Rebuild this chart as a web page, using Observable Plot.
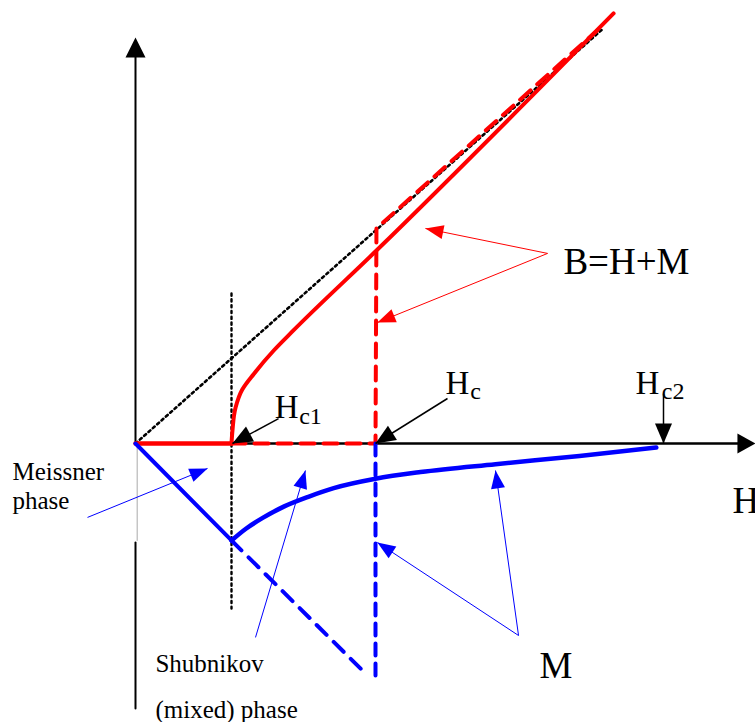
<!DOCTYPE html>
<html>
<head>
<meta charset="utf-8">
<script src="https://cdn.jsdelivr.net/npm/d3@7"></script>
<script src="https://cdn.jsdelivr.net/npm/@observablehq/plot@0.6"></script>
<style>
  html, body { margin: 0; padding: 0; background: #fff; }
  #chart svg { display: block; }
</style>
</head>
<body>
<div id="chart"></div>
<script>
// ---- Field values (arbitrary units) ----
const Hc1 = 4, Hc = 10, Hc2 = 22;

// Axes
const hAxisEnd = 25.83;       // tip of H axis arrow
const vAxisEnd = 16.92;       // tip of vertical axis arrow
const vAxisLowGrayH = [0.07, 0.07];
const vAxisLowGrayY = [0, -4.04];
const vAxisLowBlackY = [-4.125, -11.04];

// B = H reference (dotted)
const refH = [0, 19.5];
const refB = [0, 17.3];

// B(H) of the type-II superconductor (solid red)
const bMeissnerH = [0, Hc1];
const bMeissnerB = [0, 0];
const bMixedH = [4, 4.04, 4.17, 4.45, 4.93, 5.76, 6.58, 10.04, 19.92];
const bMixedB = [0, 0.54, 1.5, 2.25, 2.9, 3.875, 4.71, 8.04, 17.92];

// B(H) of the type-I superconductor (dashed red)
const bTypeIH = [Hc1, Hc, Hc, 10.04, 19.24];
const bTypeIB = [0, 0, 0, 8.96, 17.21];

// M(H) of the type-II superconductor (solid blue)
const mMeissnerH = [0, Hc1];
const mMeissnerM = [0, -4.04];
const mMixedH = [4, 4.6, 5.3, 6.2, 7.2, 8.26, 10, 11.875, 15, 18.5, 21.7];
const mMixedM = [-4.04, -3.55, -3.1, -2.62, -2.22, -1.86, -1.47, -1.19, -0.86, -0.52, -0.17];

// M(H) of the type-I superconductor (dashed blue)
const mTypeIH = [Hc1, 9.58];
const mTypeIM = [-4.04, -9.58];
const mJumpH = [Hc, Hc];
const mJumpM = [0, -10];

// Hc1 guide (dotted vertical)
const guideH = [Hc1, Hc1];
const guideY = [6.25, -6.875];

// Annotation arrows: from (x1,y1) to tip (x2,y2)
const arrowX1 = [5.96, 13, 22, 17.17, 17.17, -2, 5, 15.96, 15.96];
const arrowY1 = [1.04, 1.875, 2.08, 7.92, 7.92, -3.08, -8.08, -8, -8];
const arrowX2 = [4.04, 10, 22, 12.08, 10.08, 3, 7.08, 10.08, 15];
const arrowY2 = [0, 0, 0, 8.96, 5.04, -1.04, -1.125, -4.125, -1.125];
const arrowColor = ["black", "black", "black", "red", "red", "blue", "blue", "blue", "blue"];
const arrowWidth = [1.5, 1.5, 1.5, 1, 1, 1, 1, 1, 1];

// Labels
const labelText = ["B=H+M", "M", "H", "Meissner", "phase", "Shubnikov", "(mixed) phase"];
const labelX = [17.83, 16.83, 24.875, -5.125, -5.125, 0.83, 0.83];
const labelY = [7.08, -9.79, -2.875, -1.5, -2.71, -9.54, -11.42];
const labelSize = [37, 37, 37, 25, 25, 25, 25];

const critText = ["H", "H", "H"];
const critX = [5.8, 12.92, 20.83];
const critY = [1.08, 2.08, 2.08];
const critSub = ["c1", "c", "c2"];
const critSubX = [6.82, 13.95, 21.93];
const critSubY = [0.83, 1.875, 1.875];

// ---- build tables ----
const zip = (xs, ys) => xs.map((x, i) => ({x, y: ys[i]}));
const pxPerUnit = 24;

// arrowhead triangles (length/width given in pixels, converted to units)
function head(x1, y1, x2, y2, lenPx, widPx, id, color) {
  const dx = x2 - x1, dy = y2 - y1, L = Math.hypot(dx, dy);
  const ux = dx / L, uy = dy / L, nx = -uy, ny = ux;
  const l = lenPx / pxPerUnit, w = widPx / 2 / pxPerUnit;
  const bx = x2 - ux * l, by = y2 - uy * l;
  return [
    {x: x2, y: y2, id, color},
    {x: bx + nx * w, y: by + ny * w, id, color},
    {x: bx - nx * w, y: by - ny * w, id, color},
    {x: x2, y: y2, id, color}
  ];
}

const arrows = arrowX1.map((x1, i) => ({
  x1, y1: arrowY1[i], x2: arrowX2[i], y2: arrowY2[i], color: arrowColor[i], w: arrowWidth[i]
}));
const heads = [];
arrows.forEach((a, i) => {
  const big = i < 3;
  heads.push(...head(a.x1, a.y1, a.x2, a.y2, big ? 20 : 18, big ? 17 : 14, "a" + i, a.color));
});
heads.push(...head(0, 0, hAxisEnd, 0, 18, 20, "axH", "black"));
heads.push(...head(0, 0, 0, vAxisEnd, 20, 20, "axV", "black"));

const labels = labelText.map((t, i) => ({t, x: labelX[i], y: labelY[i], s: labelSize[i]}));
const crit = critText.map((t, i) => ({t, x: critX[i], y: critY[i], sub: critSub[i], sx: critSubX[i], sy: critSubY[i]}));

const W = 755, Hh = 722;
const xDomain = [-135 / pxPerUnit, (W - 135) / pxPerUnit];
const yDomain = [-(Hh - 443) / pxPerUnit, 443 / pxPerUnit];

const font = "Liberation Serif, Times New Roman, serif";

const chart = Plot.plot({
  width: W,
  height: Hh,
  margin: 0,
  x: {domain: xDomain, axis: null},
  y: {domain: yDomain, axis: null},
  style: {background: "white", fontFamily: font},
  marks: [
    // axes
    Plot.line(zip([0, hAxisEnd - 0.6], [0, 0]), {x: "x", y: "y", stroke: "black", strokeWidth: 2.5}),
    Plot.line(zip([0, 0], [0, vAxisEnd - 0.6]), {x: "x", y: "y", stroke: "black", strokeWidth: 2}),
    Plot.line(zip(vAxisLowGrayH, vAxisLowGrayY), {x: "x", y: "y", stroke: "#aaa", strokeWidth: 1}),
    Plot.line(zip([0, 0], vAxisLowBlackY), {x: "x", y: "y", stroke: "black", strokeWidth: 2}),
    // dotted guides
    Plot.line(zip(refH, refB), {x: "x", y: "y", stroke: "black", strokeWidth: 2.6, strokeDasharray: "2.4,3.4"}),
    Plot.line(zip(guideH, guideY), {x: "x", y: "y", stroke: "black", strokeWidth: 2.4, strokeDasharray: "2.2,3.6"}),
    // B curves
    Plot.line(zip(bTypeIH, bTypeIB), {x: "x", y: "y", stroke: "red", strokeWidth: 4, strokeDasharray: "14,9"}),
    Plot.line(zip(bMeissnerH, bMeissnerB), {x: "x", y: "y", stroke: "red", strokeWidth: 4.5}),
    Plot.line(zip(bMixedH, bMixedB), {x: "x", y: "y", stroke: "red", strokeWidth: 4, curve: "monotone-y"}),
    // M curves
    Plot.line(zip(mTypeIH, mTypeIM), {x: "x", y: "y", stroke: "blue", strokeWidth: 4, strokeDasharray: "14,10"}),
    Plot.line(zip(mJumpH, mJumpM), {x: "x", y: "y", stroke: "blue", strokeWidth: 4, strokeDasharray: "12,8"}),
    Plot.line(zip(mMeissnerH, mMeissnerM), {x: "x", y: "y", stroke: "blue", strokeWidth: 4}),
    Plot.line(zip(mMixedH, mMixedM), {x: "x", y: "y", stroke: "blue", strokeWidth: 4.5, curve: "monotone-x", strokeLinecap: "round"}),
    // annotation arrows
    Plot.link(arrows, {x1: "x1", y1: "y1", x2: "x2", y2: "y2", stroke: "color", strokeWidth: "w"}),
    Plot.line(heads, {x: "x", y: "y", z: "id", fill: "color", stroke: "none"}),
    // labels
    Plot.text(labels, {x: "x", y: "y", text: "t", fontSize: "s", textAnchor: "start", lineAnchor: "bottom", fill: "black", fontFamily: font}),
    Plot.text(crit, {x: "x", y: "y", text: "t", fontSize: 33, textAnchor: "start", lineAnchor: "bottom", fill: "black", fontFamily: font}),
    Plot.text(crit, {x: "sx", y: "sy", text: "sub", fontSize: 24, textAnchor: "start", lineAnchor: "bottom", fill: "black", fontFamily: font})
  ]
});

document.getElementById("chart").appendChild(chart);
</script>
</body>
</html>
